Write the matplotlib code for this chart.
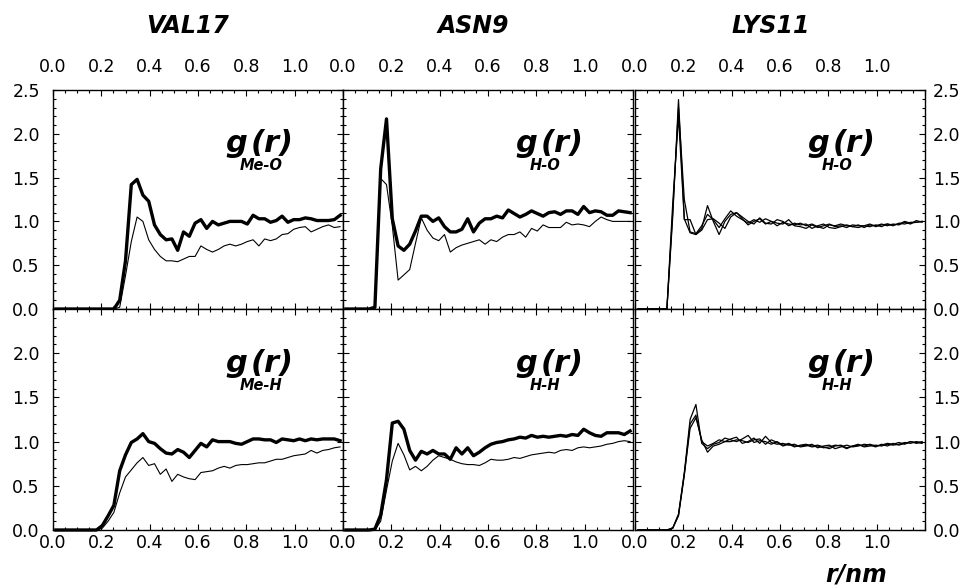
import matplotlib
matplotlib.use("Agg")
import matplotlib.pyplot as plt
from matplotlib.ticker import FixedLocator, MultipleLocator

# radial bins (nm), 0.024 nm wide
r_nm = [0.012, 0.036, 0.060, 0.084, 0.108, 0.132, 0.156, 0.180, 0.204, 0.228,
        0.252, 0.276, 0.300, 0.324, 0.348, 0.372, 0.396, 0.420, 0.444, 0.468,
        0.492, 0.516, 0.540, 0.564, 0.588, 0.612, 0.636, 0.660, 0.684, 0.708,
        0.732, 0.756, 0.780, 0.804, 0.828, 0.852, 0.876, 0.900, 0.924, 0.948,
        0.972, 0.996, 1.020, 1.044, 1.068, 1.092, 1.116, 1.140, 1.164, 1.188]

# - VAL17 -#
val_me_o_thick = [0] * 11 + [0.10, 0.55, 1.42, 1.48, 1.30, 1.23, 0.96, 0.85, 0.79, 0.80,
                             0.67, 0.88, 0.83, 0.98, 1.02, 0.92, 1.00, 0.96, 0.98, 1.00,
                             1.00, 1.00, 0.97, 1.07, 1.03, 1.03, 0.99, 1.01, 1.06, 0.99,
                             1.02, 1.02, 1.04, 1.03, 1.01, 1.01, 1.01, 1.02, 1.07]
val_me_o_thin = [0] * 11 + [0.02, 0.38, 0.77, 1.05, 1.00, 0.79, 0.68, 0.60, 0.55, 0.55,
                            0.54, 0.57, 0.60, 0.60, 0.72, 0.68, 0.65, 0.68, 0.72, 0.74,
                            0.72, 0.74, 0.77, 0.79, 0.72, 0.80, 0.78, 0.80, 0.85, 0.86,
                            0.91, 0.93, 0.94, 0.88, 0.91, 0.94, 0.96, 0.93, 0.94]
val_me_h_thick = [0] * 8 + [0.05, 0.16, 0.28, 0.67, 0.85, 0.99, 1.03, 1.09, 1.00, 0.98,
                            0.92, 0.87, 0.86, 0.91, 0.88, 0.82, 0.90, 0.98, 0.94, 1.02,
                            1.00, 1.00, 1.00, 0.98, 0.97, 1.00, 1.03, 1.03, 1.02, 1.02,
                            0.99, 1.03, 1.02, 1.01, 1.03, 1.01, 1.03, 1.02, 1.03, 1.03,
                            1.03, 1.01]
val_me_h_thin = [0] * 8 + [0.02, 0.10, 0.20, 0.42, 0.60, 0.68, 0.76, 0.82, 0.73, 0.75,
                           0.63, 0.69, 0.55, 0.63, 0.60, 0.58, 0.57, 0.65, 0.66, 0.67,
                           0.70, 0.72, 0.70, 0.73, 0.74, 0.74, 0.75, 0.76, 0.76, 0.78,
                           0.80, 0.80, 0.82, 0.84, 0.85, 0.86, 0.90, 0.87, 0.90, 0.91,
                           0.93, 0.94]

# - ASN9 -#
asn_h_o_thick = [0] * 5 + [0.02, 1.60, 2.17, 1.03, 0.72, 0.67, 0.74, 0.89, 1.06, 1.06,
                           1.00, 1.04, 0.94, 0.88, 0.88, 0.91, 1.03, 0.88, 0.98, 1.03,
                           1.03, 1.06, 1.04, 1.13, 1.09, 1.05, 1.08, 1.12, 1.09, 1.06,
                           1.10, 1.11, 1.08, 1.12, 1.12, 1.08, 1.17, 1.10, 1.12, 1.11,
                           1.07, 1.07, 1.12, 1.11, 1.10]
asn_h_o_thin = [0] * 5 + [0.00, 1.49, 1.42, 0.95, 0.33, 0.39, 0.45, 0.75, 1.04, 0.90,
                          0.81, 0.78, 0.85, 0.65, 0.70, 0.73, 0.75, 0.77, 0.79, 0.74,
                          0.79, 0.77, 0.82, 0.85, 0.85, 0.88, 0.82, 0.92, 0.89, 0.96,
                          0.93, 0.93, 0.93, 0.99, 0.96, 0.97, 0.96, 0.94, 1.00, 1.05,
                          1.02, 1.00, 1.00, 1.00, 1.00]
asn_h_h_thick = [0] * 5 + [0.01, 0.17, 0.57, 1.21, 1.23, 1.14, 0.90, 0.79, 0.89, 0.86,
                           0.90, 0.86, 0.86, 0.80, 0.93, 0.86, 0.93, 0.84, 0.88, 0.93,
                           0.97, 0.99, 1.00, 1.02, 1.03, 1.05, 1.04, 1.07, 1.05, 1.06,
                           1.05, 1.06, 1.07, 1.06, 1.08, 1.07, 1.14, 1.10, 1.07, 1.06,
                           1.10, 1.10, 1.10, 1.08, 1.12]
asn_h_h_thin = [0] * 5 + [0.00, 0.10, 0.45, 0.78, 0.98, 0.85, 0.68, 0.72, 0.67, 0.72,
                          0.79, 0.84, 0.82, 0.80, 0.77, 0.75, 0.74, 0.74, 0.73, 0.76,
                          0.80, 0.79, 0.79, 0.80, 0.82, 0.81, 0.83, 0.85, 0.86, 0.87,
                          0.88, 0.87, 0.90, 0.91, 0.90, 0.93, 0.94, 0.93, 0.94, 0.95,
                          0.97, 0.98, 1.00, 1.01, 1.00]

# - LYS11 (three runs) -#
lys_h_o_a = [0] * 5 + [0.00, 1.05, 2.39, 1.03, 0.87, 0.85, 0.92, 1.18, 1.00, 0.85,
                       1.00, 1.08, 1.10, 1.03, 0.96, 1.00, 1.03, 0.97, 1.00, 0.98,
                       0.97, 1.02, 0.95, 0.94, 0.92, 0.96, 0.93, 0.95, 0.97, 0.94,
                       0.95, 0.93, 0.96, 0.95, 0.95, 0.97, 0.94, 0.96, 0.97, 0.95,
                       0.98, 0.97, 0.99, 0.99, 1.00]
lys_h_o_b = [0] * 5 + [0.00, 1.20, 2.20, 1.02, 1.02, 0.85, 0.90, 1.02, 1.03, 0.98,
                       0.92, 1.05, 1.10, 1.05, 1.00, 0.97, 1.04, 0.98, 0.97, 1.02,
                       1.00, 0.95, 0.98, 0.96, 0.97, 0.92, 0.95, 0.97, 0.93, 0.92,
                       0.94, 0.96, 0.94, 0.93, 0.95, 0.94, 0.96, 0.94, 0.97, 0.96,
                       0.97, 1.00, 0.98, 0.99, 1.00]
lys_h_o_c = [0] * 5 + [0.00, 1.10, 2.30, 1.25, 0.88, 0.86, 0.95, 1.08, 1.02, 0.93,
                       1.03, 1.12, 1.06, 1.02, 0.98, 1.02, 0.99, 1.03, 1.00, 0.95,
                       0.99, 0.97, 0.96, 0.98, 0.95, 0.97, 0.94, 0.92, 0.96, 0.95,
                       0.97, 0.95, 0.94, 0.96, 0.93, 0.96, 0.95, 0.97, 0.95, 0.97,
                       0.96, 0.99, 0.97, 1.01, 0.99]
lys_h_h_a = [0] * 6 + [0.02, 0.18, 0.65, 1.25, 1.42, 0.98, 0.92, 0.97, 0.99, 1.04,
                       1.02, 1.00, 1.03, 1.07, 0.99, 1.01, 1.00, 0.97, 1.00, 0.96,
                       0.98, 0.95, 0.95, 0.96, 0.94, 0.95, 0.93, 0.94, 0.96, 0.95,
                       0.92, 0.95, 0.97, 0.94, 0.95, 0.96, 0.95, 0.97, 0.96, 0.97,
                       0.99, 0.98, 1.00, 0.99]
lys_h_h_b = [0] * 6 + [0.02, 0.16, 0.62, 1.20, 1.30, 1.00, 0.95, 0.98, 1.02, 1.00,
                       1.03, 1.05, 0.98, 1.00, 1.04, 0.98, 1.06, 0.99, 0.97, 0.98,
                       0.96, 0.97, 0.94, 0.95, 0.97, 0.93, 0.95, 0.96, 0.92, 0.94,
                       0.96, 0.94, 0.95, 0.97, 0.96, 0.94, 0.97, 0.95, 0.98, 0.96,
                       0.98, 1.00, 0.99, 0.98]
lys_h_h_c = [0] * 6 + [0.02, 0.17, 0.63, 1.15, 1.27, 1.02, 0.88, 0.95, 0.97, 1.00,
                       1.00, 1.02, 1.01, 0.99, 1.02, 1.03, 0.97, 1.02, 0.99, 0.95,
                       0.97, 0.94, 0.96, 0.97, 0.95, 0.96, 0.94, 0.92, 0.95, 0.96,
                       0.93, 0.95, 0.96, 0.95, 0.97, 0.95, 0.96, 0.98, 0.97, 0.99,
                       0.97, 1.00, 0.98, 1.00]

residues = ["VAL17", "ASN9", "LYS11"]
x_ticks = [0.0, 0.2, 0.4, 0.6, 0.8, 1.0, 1.2]
x_labels = ["0.0", "0.2", "0.4", "0.6", "0.8", "1.0", ""]
y_ticks = [0.0, 0.5, 1.0, 1.5, 2.0, 2.5]
y_labels_top = ["0.0", "0.5", "1.0", "1.5", "2.0", "2.5"]
y_labels_bot = ["0.0", "0.5", "1.0", "1.5", "2.0", ""]

# (thick, thin) pairs or three equal runs for each panel
panels = [
    [[(val_me_o_thick, 2.4), (val_me_o_thin, 0.8)], "Me-O"],
    [[(asn_h_o_thick, 2.4), (asn_h_o_thin, 0.8)], "H-O"],
    [[(lys_h_o_a, 0.9), (lys_h_o_b, 0.9), (lys_h_o_c, 0.9)], "H-O"],
    [[(val_me_h_thick, 2.4), (val_me_h_thin, 0.8)], "Me-H"],
    [[(asn_h_h_thick, 2.4), (asn_h_h_thin, 0.8)], "H-H"],
    [[(lys_h_h_a, 0.9), (lys_h_h_b, 0.9), (lys_h_h_c, 0.9)], "H-H"],
]

W, H = 972, 588
fig = plt.figure(figsize=(W / 100, H / 100), dpi=100)

col_left = [53, 343, 635]
col_w = 290
rows = [(90, 309), (309, 530)]

lab = dict(fontweight="bold", style="italic", color="black")

for i, (curves, sub) in enumerate(panels):
    row, col = divmod(i, 3)
    top_px, bot_px = rows[row]
    ax = fig.add_axes([col_left[col] / W, 1 - bot_px / H,
                       col_w / W, (bot_px - top_px) / H])
    for y, lw in curves:
        ax.plot(r_nm, y, color="black", linewidth=lw, clip_on=False)
    ax.set_xlim(0, 1.2)
    ax.set_ylim(0, 2.5)

    ax.xaxis.set_major_locator(FixedLocator(x_ticks))
    ax.xaxis.set_minor_locator(MultipleLocator(0.05))
    ax.yaxis.set_major_locator(FixedLocator(y_ticks))
    ax.yaxis.set_minor_locator(MultipleLocator(0.1))
    ax.set_xticklabels(x_labels)
    ax.set_yticklabels(y_labels_top if row == 0 else y_labels_bot)

    ax.tick_params(which="both", direction="in", top=True, bottom=True,
                   left=True, right=True, width=0.8, colors="black",
                   labelsize=12.5)
    ax.tick_params(which="major", length=4.5)
    ax.tick_params(which="minor", length=2.4)
    if row == 0:
        ax.tick_params(axis="x", labeltop=True, labelbottom=False, pad=10)
    else:
        ax.tick_params(axis="x", labeltop=False, labelbottom=True, pad=3.2)
    if col == 0:
        ax.tick_params(axis="y", labelleft=True, labelright=False, pad=9.5)
    elif col == 2:
        ax.tick_params(axis="y", labelleft=False, labelright=True, pad=5.8)
    else:
        ax.tick_params(axis="y", labelleft=False, labelright=False)
    for s in ax.spines.values():
        s.set_linewidth(1.0)

    anchor = (0.595, 0.715)
    ax.annotate("g", xy=anchor, xycoords="axes fraction", ha="left",
                va="baseline", fontsize=22, **lab)
    ax.annotate("(r)", xy=anchor, xycoords="axes fraction", xytext=(25, 0),
                textcoords="offset pixels", ha="left", va="baseline",
                fontsize=22, **lab)
    ax.annotate(sub, xy=anchor, xycoords="axes fraction", xytext=(14, -18),
                textcoords="offset pixels", ha="left", va="baseline",
                fontsize=10.5, **lab)

title_x = [188, 473, 771]
for name, tx in zip(residues, title_x):
    fig.text(tx / W, 1 - 33 / H, name, ha="center", va="baseline",
             fontsize=17, **lab)

fig.text(856 / W, 1 - 581 / H, "r/nm", ha="center", va="baseline",
         fontsize=17, **lab)

fig.savefig("out.png", dpi=100)
